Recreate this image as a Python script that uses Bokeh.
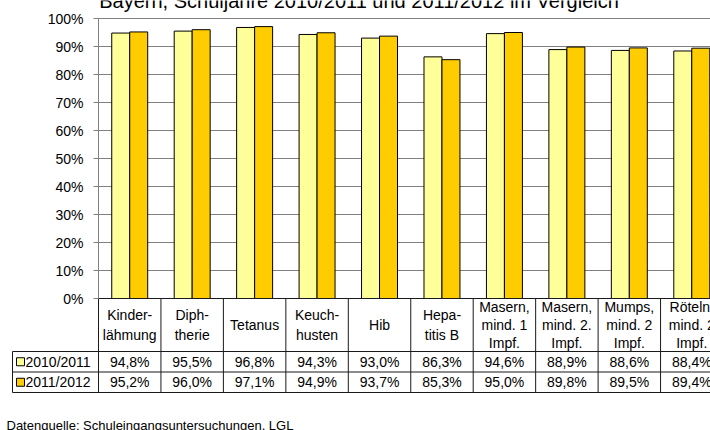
import numpy as np
from bokeh.plotting import figure
from bokeh.models import Range1d, FixedTicker, NumeralTickFormatter
from bokeh.core.properties import value
from bokeh.embed import file_html
from bokeh.resources import INLINE

# ---------------- data ----------------
title = "Bayern, Schuljahre 2010/2011 und 2011/2012 im Vergleich"
categories = ["Kinder-\nlähmung", "Diph-\ntherie", "Tetanus", "Keuch-\nhusten", "Hib",
              "Hepa-\ntitis B", "Masern,\nmind. 1\nImpf.", "Masern,\nmind. 2.\nImpf.",
              "Mumps,\nmind. 2\nImpf.", "Röteln,\nmind. 2\nImpf."]
series_names = ["2010/2011", "2011/2012"]
values_2010 = [94.8, 95.5, 96.8, 94.3, 93.0, 86.3, 94.6, 88.9, 88.6, 88.4]
values_2011 = [95.2, 96.0, 97.1, 94.9, 93.7, 85.3, 95.0, 89.8, 89.5, 89.4]
y_ticks = [0.0, 0.1, 0.2, 0.3, 0.4, 0.5, 0.6, 0.7, 0.8, 0.9, 1.0]
source_note = "Datenquelle: Schuleingangsuntersuchungen, LGL"

# ---------------- style / layout ----------------
FONT = value("Liberation Sans")
COL = ["#FFFF99", "#FFCC00"]
GRID = "#808080"
TBL = "#1a1a1a"
W, H = 710, 430
LEFT = 98          # px of plot-area left edge
CAT = 62.45        # px per category
TOP, ZERO = 18, 298
PXU = ZERO - TOP   # px per 100 %


def py(px):
    """canvas pixel row -> data y"""
    return (ZERO - px) / PXU


def px_x(px):
    """canvas pixel column -> data x"""
    return (px - LEFT) / CAT


n = len(categories)
xc = np.arange(n) + 0.5
off = 0.144
bw = 0.288
XEND = px_x(W) + 1

p = figure(width=W, height=H, output_backend="svg", toolbar_location=None,
           x_range=Range1d(px_x(0), px_x(W)), y_range=Range1d(py(H), py(0)),
           x_axis_type=None, min_border=0)
p.outline_line_color = None
p.background_fill_color = "white"
p.border_fill_color = "white"

ya = p.yaxis[0]
ya.fixed_location = 0
ya.ticker = FixedTicker(ticks=y_ticks)
ya.formatter = NumeralTickFormatter(format="0%")
ya.bounds = (0, 1)
ya.axis_line_color = GRID
ya.major_tick_line_color = GRID
ya.major_tick_out = 5
ya.major_tick_in = 0
ya.minor_tick_line_color = None
ya.major_label_text_font = "Liberation Sans"
ya.major_label_text_font_size = "14px"
ya.major_label_text_color = "black"
ya.major_label_standoff = 10

g = p.ygrid[0]
g.ticker = FixedTicker(ticks=y_ticks)
g.grid_line_color = GRID
g.grid_line_width = 1
try:
    g.cross_bounds = (0, XEND)
except Exception:
    g.visible = False
    p.segment(x0=[0] * len(y_ticks), y0=y_ticks, x1=[XEND] * len(y_ticks), y1=y_ticks,
              line_color=GRID, line_width=1)

p.vbar(x=xc - off, top=np.array(values_2010) / 100, width=bw,
       fill_color=COL[0], line_color="black", line_width=1)
p.vbar(x=xc + off, top=np.array(values_2011) / 100, width=bw,
       fill_color=COL[1], line_color="black", line_width=1)

# title (partly cut off at the top, as in the reference)
p.text(x=[px_x(358.5)], y=[py(0)], text=[title],
       text_align="center", text_baseline="alphabetic",
       text_font=FONT, text_font_size="20px", text_color="black")

# ---------------- data table ----------------
R1, R2, R3 = 351, 371.5, 392
leg_left = px_x(12)

kb = np.arange(n + 1)
p.segment(x0=kb, y0=[0] * (n + 1), x1=kb, y1=[py(R3)] * (n + 1), line_color=TBL, line_width=1)
p.segment(x0=[leg_left], y0=[py(R1)], x1=[leg_left], y1=[py(R3)], line_color=TBL, line_width=1)
p.segment(x0=[0, leg_left, leg_left, leg_left], y0=[0, py(R1), py(R2), py(R3)],
          x1=[XEND] * 4, y1=[0, py(R1), py(R2), py(R3)], line_color=TBL, line_width=1)

hdr_mid = py((ZERO + R1) / 2)
nlines = np.array([c.count("\n") + 1 for c in categories])
for k, lh in [(1, 1.2), (2, 1.24), (3, 1.12)]:
    m = nlines == k
    p.text(x=xc[m], y=[hdr_mid] * int(m.sum()), text=[c for c, mm in zip(categories, m) if mm],
           text_align="center", text_baseline="middle", text_line_height=lh,
           text_font=FONT, text_font_size="14px", text_color="black")


def fmt(v):
    return f"{v:.1f}%".replace(".", ",")


row_y = [py((R1 + R2) / 2), py((R2 + R3) / 2)]
for vals, yy in zip([values_2010, values_2011], row_y):
    p.text(x=xc, y=[yy] * n, text=[fmt(v) for v in vals],
           text_align="center", text_baseline="middle",
           text_font=FONT, text_font_size="14px", text_color="black")

p.scatter(x=[px_x(20)] * 2, y=row_y, marker="square", size=8,
          fill_color=COL, line_color="black", line_width=1)
p.text(x=[px_x(25)] * 2, y=row_y, text=series_names,
       text_align="left", text_baseline="middle",
       text_font=FONT, text_font_size="14px", text_color="black")

p.text(x=[px_x(6)], y=[py(425)], text=[source_note],
       text_align="left", text_baseline="middle",
       text_font=FONT, text_font_size="13px", text_color="black")

open("out.html", "w").write(file_html(p, INLINE))
